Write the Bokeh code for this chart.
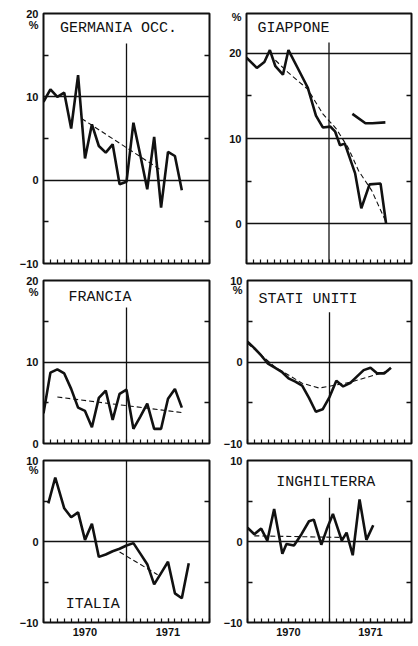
from bokeh.plotting import figure
from bokeh.layouts import column, row
from bokeh.models import FixedTicker, Label, LinearAxis, Range1d, Grid
from bokeh.embed import file_html
from bokeh.resources import INLINE

# ---------------- data (months counted from Jan 1970) ----------------
year_labels = ["1970", "1971"]
year_label_months = [6, 18]
break_month = 12
month_minor = list(range(0, 25))

ger_months = [0, 1, 2, 3, 4, 5, 6, 7, 8, 9, 10, 11, 12, 13, 14, 15, 16, 17, 18, 19, 20]
ger_values = [9.4, 10.9, 10.0, 10.5, 6.2, 12.6, 2.6, 6.7, 4.1, 3.3, 4.3, -0.5, -0.2,
              6.9, 3.0, -1.1, 5.2, -3.3, 3.4, 2.9, -1.2]
ger_trend_m = [5.5, 17.0]
ger_trend_v = [7.4, 1.2]

jp_months = [0, 1.5, 2.6, 3.4, 4.2, 5.3, 6.1, 7.5, 8.9, 10.1, 11.1, 12.2, 12.9,
             13.6, 14.3, 15.8, 16.7, 17.9, 19.5, 20.3]
jp_values = [19.5, 18.3, 19.0, 20.4, 18.5, 17.5, 20.4, 18.2, 16.0, 12.7, 11.3, 11.4,
             10.8, 9.2, 9.4, 5.9, 1.8, 4.6, 4.7, 0.0]
jp_trend_m = [4.2, 6.0, 8.9, 11.1, 13.0, 14.8, 16.3, 18.2, 20.4]
jp_trend_v = [19.2, 17.8, 15.8, 12.9, 11.2, 8.9, 6.2, 3.9, 0.0]
jp2_months = [15.4, 17.3, 18.3, 20.2]
jp2_values = [12.9, 11.8, 11.8, 11.9]

fr_months = [0, 1, 2, 3, 4, 5, 6, 7, 8, 9, 10, 11, 12, 13, 14, 15, 16, 17, 18, 19, 20]
fr_values = [3.7, 8.7, 9.1, 8.6, 6.7, 4.4, 4.0, 2.0, 5.6, 6.5, 2.9, 6.1, 6.6, 1.8,
             3.3, 4.9, 1.8, 1.8, 5.5, 6.7, 4.4]
fr_trend_m = [2.0, 20.0]
fr_trend_v = [5.7, 3.8]

us_months = [0, 1, 2, 3, 4, 5, 6, 7, 8, 9, 10, 11, 12, 13, 14, 15, 16, 17, 18, 19, 20, 21]
us_values = [2.5, 1.7, 0.8, -0.2, -0.7, -1.2, -2.0, -2.4, -2.9, -4.4, -6.1, -5.8,
             -4.3, -2.3, -3.0, -2.6, -1.8, -1.0, -0.7, -1.4, -1.4, -0.7]
us_trend_m = [0, 4, 8, 10.5, 15, 21]
us_trend_v = [2.3, -0.6, -2.6, -3.2, -2.5, -1.0]

it_months = [0.7, 1.7, 3, 4, 5, 6, 7, 8, 9, 10, 11, 12, 13, 14, 15, 16, 17, 18, 19, 20, 21]
it_values = [4.7, 7.9, 4.1, 3.0, 3.6, 0.2, 2.2, -1.9, -1.6, -1.2, -0.9, -0.5, -0.2,
             -1.5, -2.8, -5.3, -3.9, -2.5, -6.4, -7.0, -2.7]
it_trend_m = [11.0, 16.5]
it_trend_v = [-1.3, -4.1]

uk_months = [0, 1, 2, 2.9, 3.9, 5.1, 5.7, 6.8, 7.9, 9.0, 9.7, 10.8, 11.6, 12.5,
             13.8, 14.5, 15.4, 16.4, 17.4, 18.4]
uk_values = [1.7, 0.9, 1.6, 0.1, 4.0, -1.5, -0.3, -0.5, 0.9, 2.5, 2.7, -0.4, 1.5,
             3.4, 0.1, 1.1, -1.7, 5.2, 0.2, 2.0]
uk_trend_m = [1.0, 14.0]
uk_trend_v = [0.7, 0.5]

# ---------------- styling ----------------
INK = "#111111"
LABEL_FONT = "Liberation Sans"
TITLE_FONT = "Liberation Mono"

COLS = {
    "left": dict(width=220, min_border_left=43, min_border_right=11),
    "right": dict(width=198, min_border_left=26, min_border_right=7),
}
ROWS = {
    1: dict(height=271, min_border_top=13, min_border_bottom=8),
    2: dict(height=180, min_border_top=9, min_border_bottom=8),
    3: dict(height=195, min_border_top=9, min_border_bottom=24),
}


def panel(col, rw, title, months, values, trend_m, trend_v, yr, yticks, yminor,
          grid_vals, title_xy, pct_y, vline_top, show_years=False, extra=None):
    p = figure(output_backend="svg", toolbar_location=None,
               x_axis_type=None, y_axis_type=None,
               x_range=Range1d(0, 24), y_range=Range1d(*yr),
               background_fill_color="white", border_fill_color="white",
               **COLS[col], **ROWS[rw])
    p.outline_line_color = INK
    p.outline_line_width = 2
    p.grid.visible = False

    label_ticks = list(yticks)
    overrides_y = {}
    if pct_y is not None:
        label_ticks.append(pct_y)
        overrides_y[pct_y] = "%"
    ly = LinearAxis(ticker=FixedTicker(ticks=label_ticks, minor_ticks=yminor),
                    axis_line_color=None,
                    major_tick_line_color=None, major_tick_in=0, major_tick_out=0,
                    minor_tick_in=5, minor_tick_out=0, minor_tick_line_width=1.5,
                    minor_tick_line_color=INK,
                    major_label_overrides=overrides_y,
                    major_label_text_font=LABEL_FONT, major_label_text_font_style="bold",
                    major_label_text_font_size="11px", major_label_text_color=INK,
                    major_label_standoff=5)
    p.add_layout(ly, "left")
    ry = LinearAxis(ticker=FixedTicker(ticks=[], minor_ticks=yminor), axis_line_color=None,
                    major_tick_line_color=None, major_tick_in=0, major_tick_out=0,
                    minor_tick_in=5, minor_tick_out=0, minor_tick_line_width=1.5,
                    minor_tick_line_color=INK, major_label_standoff=0)
    p.add_layout(ry, "right")

    if show_years:
        bx = LinearAxis(ticker=FixedTicker(ticks=year_label_months, minor_ticks=month_minor),
                        axis_line_color=None,
                        major_tick_in=4, major_tick_out=0, major_tick_line_width=1.2,
                        major_tick_line_color=INK,
                        minor_tick_in=4, minor_tick_out=0, minor_tick_line_width=1.2,
                        minor_tick_line_color=INK,
                        major_label_overrides=dict(zip(year_label_months, year_labels)),
                        major_label_text_font=LABEL_FONT, major_label_text_font_style="bold",
                        major_label_text_font_size="11px", major_label_text_color=INK,
                        major_label_standoff=5)
    else:
        bx = LinearAxis(ticker=FixedTicker(ticks=[], minor_ticks=month_minor),
                        axis_line_color=None,
                        major_tick_line_color=None, major_tick_in=0, major_tick_out=0,
                        minor_tick_in=4, minor_tick_out=0, minor_tick_line_width=1.2,
                        minor_tick_line_color=INK, major_label_standoff=0)
    p.add_layout(bx, "below")

    g = Grid(dimension=1, ticker=FixedTicker(ticks=grid_vals),
             grid_line_color=INK, grid_line_width=1.5)
    p.add_layout(g)

    p.segment(x0=[break_month], y0=[vline_top], x1=[break_month], y1=[yr[0]],
              line_color=INK, line_width=1.3)

    p.line(trend_m, trend_v, line_color=INK, line_width=1.1, line_dash="5 3")
    p.line(months, values, line_color=INK, line_width=2.6)
    if extra is not None:
        p.line(extra[0], extra[1], line_color=INK, line_width=2.6)

    p.add_layout(Label(x=title_xy[0], y=title_xy[1], text=title,
                       text_font=TITLE_FONT, text_font_size="15px",
                       text_color=INK, text_baseline="middle", text_align="left"))
    return p


f1 = panel("left", 1, "GERMANIA OCC.", ger_months, ger_values, ger_trend_m, ger_trend_v,
           (-10, 20), [20, 10, 0, -10], [15, 5, -5], [10, 0], (2.4, 18.2), 18.6, 16.4)
f2 = panel("right", 1, "GIAPPONE", jp_months, jp_values, jp_trend_m, jp_trend_v,
           (-4.7, 24.7), [20, 10, 0], [15, 5], [20, 10, 0], (1.6, 22.9), 24.3, 21.3,
           extra=(jp2_months, jp2_values))
f3 = panel("left", 2, "FRANCIA", fr_months, fr_values, fr_trend_m, fr_trend_v,
           (0, 20), [20, 10, 0], [15, 5], [10], (3.6, 17.9), 18.6, 16.7)
f4 = panel("right", 2, "STATI UNITI", us_months, us_values, us_trend_m, us_trend_v,
           (-10, 10), [10, 0, -10], [5, -5], [0], (1.6, 7.7), 8.8, 6.1)
f5 = panel("left", 3, "ITALIA", it_months, it_values, it_trend_m, it_trend_v,
           (-10, 10), [10, 0, -10], [5, -5], [0], (3.2, -7.8), 8.8, 10,
           show_years=True)
f6 = panel("right", 3, "INGHILTERRA", uk_months, uk_values, uk_trend_m, uk_trend_v,
           (-10, 10), [10, 0, -10], [5, -5], [0], (4.2, 7.3), None, 5.4,
           show_years=True)

layout = column(row(f1, f2), row(f3, f4), row(f5, f6))

open("out.html", "w").write(file_html(layout, INLINE))
